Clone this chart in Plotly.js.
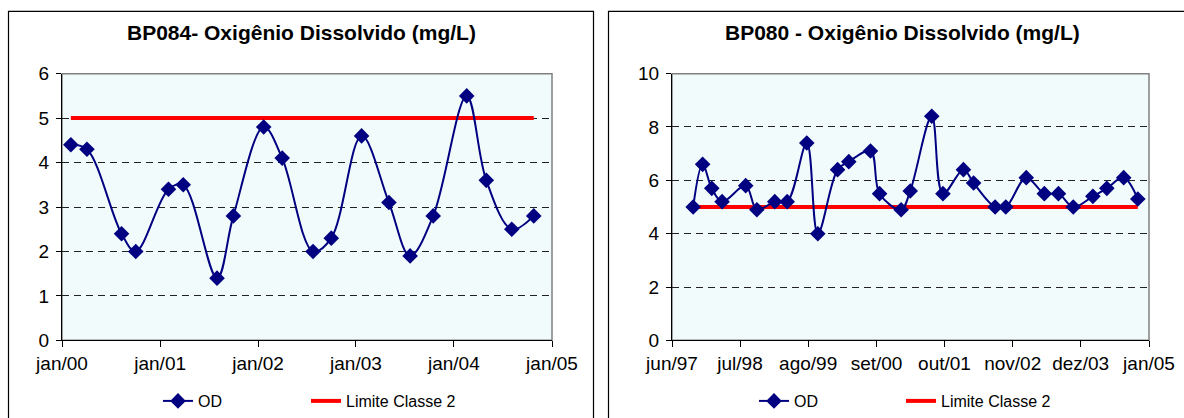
<!DOCTYPE html>
<html>
<head>
<meta charset="utf-8">
<script src="https://cdn.plot.ly/plotly-3.0.1.min.js"></script>
<style>
html,body{margin:0;padding:0;background:#fff;}
#chart{width:1184px;height:418px;}
</style>
</head>
<body>
<div id="chart"></div>
<script>
// ---- BP084 data ----
const bp084Title = "BP084- Oxigênio Dissolvido (mg/L)";
const bp084Dates = ["2000-02-03","2000-04-03","2000-08-10","2000-10-02","2001-02-01","2001-03-28",
  "2001-08-01","2001-10-01","2002-01-22","2002-04-01","2002-07-25","2002-10-01","2003-01-22",
  "2003-05-04","2003-07-22","2003-10-16","2004-02-18","2004-05-01","2004-08-04","2004-10-25"];
const bp084OD = [4.4,4.3,2.4,2.0,3.4,3.5,1.4,2.8,4.8,4.1,2.0,2.3,4.6,3.1,1.9,2.8,5.5,3.6,2.5,2.8];
const bp084TickVals = ["2000-01-01","2001-01-01","2002-01-01","2003-01-01","2004-01-01","2005-01-01"];
const bp084TickText = ["jan/00","jan/01","jan/02","jan/03","jan/04","jan/05"];

// ---- BP080 data ----
const bp080Title = "BP080 - Oxigênio Dissolvido (mg/L)";
const bp080Dates = ["1997-10-02","1997-11-26","1998-01-18","1998-03-19","1998-08-03","1998-10-07",
  "1999-01-19","1999-04-01","1999-07-24","1999-09-26","2000-01-19","2000-03-24","2000-07-28",
  "2000-09-19","2001-01-22","2001-03-16","2001-07-19","2001-09-22","2002-01-19","2002-03-19",
  "2002-07-22","2002-09-22","2003-01-19","2003-05-04","2003-07-25","2003-10-19","2004-02-10",
  "2004-05-01","2004-08-07","2004-10-28"];
const bp080OD = [5.0,6.6,5.7,5.2,5.8,4.9,5.2,5.2,7.4,4.0,6.4,6.7,7.1,5.5,4.9,5.6,8.4,5.5,6.4,5.9,
  5.0,5.0,6.1,5.5,5.5,5.0,5.4,5.7,6.1,5.3];
const bp080TickVals = ["1997-06-01","1998-07-01","1999-08-01","2000-09-01","2001-10-01","2002-11-01","2003-12-01","2005-01-01"];
const bp080TickText = ["jun/97","jul/98","ago/99","set/00","out/01","nov/02","dez/03","jan/05"];

// ---- shared ----
const limiteClasse2 = 5;
const seriesNames = ["OD","Limite Classe 2"];

const W = 1184, H = 418;
const px = v => v / W;
const py = v => 1 - v / H;

const FONT = "Arial, 'Liberation Sans', sans-serif";
const NAVY = "#000080";
const RED = "#ff0000";

function odTrace(x, y, xa, ya, lg) {
  return {type:"scatter", mode:"lines+markers", x:x, y:y, xaxis:xa, yaxis:ya, name:seriesNames[0],
    legend:lg,
    line:{color:NAVY, width:2, shape:"spline", smoothing:1},
    marker:{symbol:"diamond", size:12, color:NAVY}, cliponaxis:false};
}
function limTrace(x, xa, ya, lg) {
  return {type:"scatter", mode:"lines", x:x, y:x.map(() => limiteClasse2), xaxis:xa, yaxis:ya,
    name:seriesNames[1], legend:lg,
    line:{color:RED, width:4}};
}

const traces = [
  limTrace(bp084Dates, "x", "y", "legend2"),
  odTrace(bp084Dates, bp084OD, "x", "y", "legend"),
  limTrace(bp080Dates, "x2", "y2", "legend4"),
  odTrace(bp080Dates, bp080OD, "x2", "y2", "legend3")
];

const tickFont = {family:FONT, size:19, color:"#000"};
function xAxis(dom, range, tv, tt, anchor) {
  return {domain:dom, anchor:anchor, type:"date", range:range, tickmode:"array", tickvals:tv, ticktext:tt,
    showgrid:false, zeroline:false, showline:true, linecolor:"#000", linewidth:1,
    ticks:"outside", ticklen:6, tickcolor:"#000", tickfont:tickFont, fixedrange:true};
}
function yAxis(dom, range, dtick, anchor) {
  return {domain:dom, anchor:anchor, range:range, dtick:dtick, tick0:0,
    showgrid:true, gridcolor:"#222", gridwidth:1, griddash:"7px,5px",
    zeroline:false, showline:true, linecolor:"#000", linewidth:1,
    ticks:"outside", ticklen:5, tickcolor:"#000", tickfont:tickFont, ticklabelstandoff:3, fixedrange:true};
}
function leg(xpx) {
  return {orientation:"h", x:px(xpx), y:py(403), xanchor:"left", yanchor:"middle",
    font:{family:FONT, size:16, color:"#000"}, bgcolor:"rgba(0,0,0,0)"};
}

const yDom = [py(342), py(74)];

const layout = {
  width:W, height:H, margin:{l:0,r:0,t:0,b:0}, paper_bgcolor:"#fff", plot_bgcolor:"#f1fbfc",
  showlegend:true, font:{family:FONT, color:"#000"},
  xaxis: xAxis([px(62), px(552)], ["2000-01-01","2005-01-01"], bp084TickVals, bp084TickText, "y"),
  yaxis: yAxis(yDom, [0,6], 1, "x"),
  xaxis2: xAxis([px(672), px(1149)], ["1997-06-01","2005-01-01"], bp080TickVals, bp080TickText, "y2"),
  yaxis2: yAxis(yDom, [0,10], 2, "x2"),
  legend: leg(158),
  legend2: leg(306),
  legend3: leg(754),
  legend4: leg(901),
  annotations:[
    {text:"<b>"+bp084Title+"</b>", xref:"paper", yref:"paper", x:px(301), y:py(33), showarrow:false,
     xanchor:"center", yanchor:"middle", font:{family:FONT, size:21, color:"#000"}},
    {text:"<b>"+bp080Title+"</b>", xref:"paper", yref:"paper", x:px(902), y:py(33), showarrow:false,
     xanchor:"center", yanchor:"middle", font:{family:FONT, size:21, color:"#000"}}
  ],
  shapes:[
    {type:"rect", xref:"paper", yref:"paper", x0:px(8.5), x1:px(593.5), y0:-0.05, y1:py(11.5),
     line:{color:"#000", width:1.2}, layer:"below"},
    {type:"rect", xref:"paper", yref:"paper", x0:px(608.5), x1:1.05, y0:-0.05, y1:py(11.5),
     line:{color:"#000", width:1.2}, layer:"below"},
    {type:"rect", xref:"paper", yref:"paper", x0:px(62), x1:px(552), y0:py(342), y1:py(74),
     line:{color:"#808080", width:1.5}, layer:"below"},
    {type:"rect", xref:"paper", yref:"paper", x0:px(672), x1:px(1149), y0:py(342), y1:py(74),
     line:{color:"#808080", width:1.5}, layer:"below"}
  ]
};

Plotly.newPlot("chart", traces, layout, {staticPlot:true, displayModeBar:false});
</script>
</body>
</html>
